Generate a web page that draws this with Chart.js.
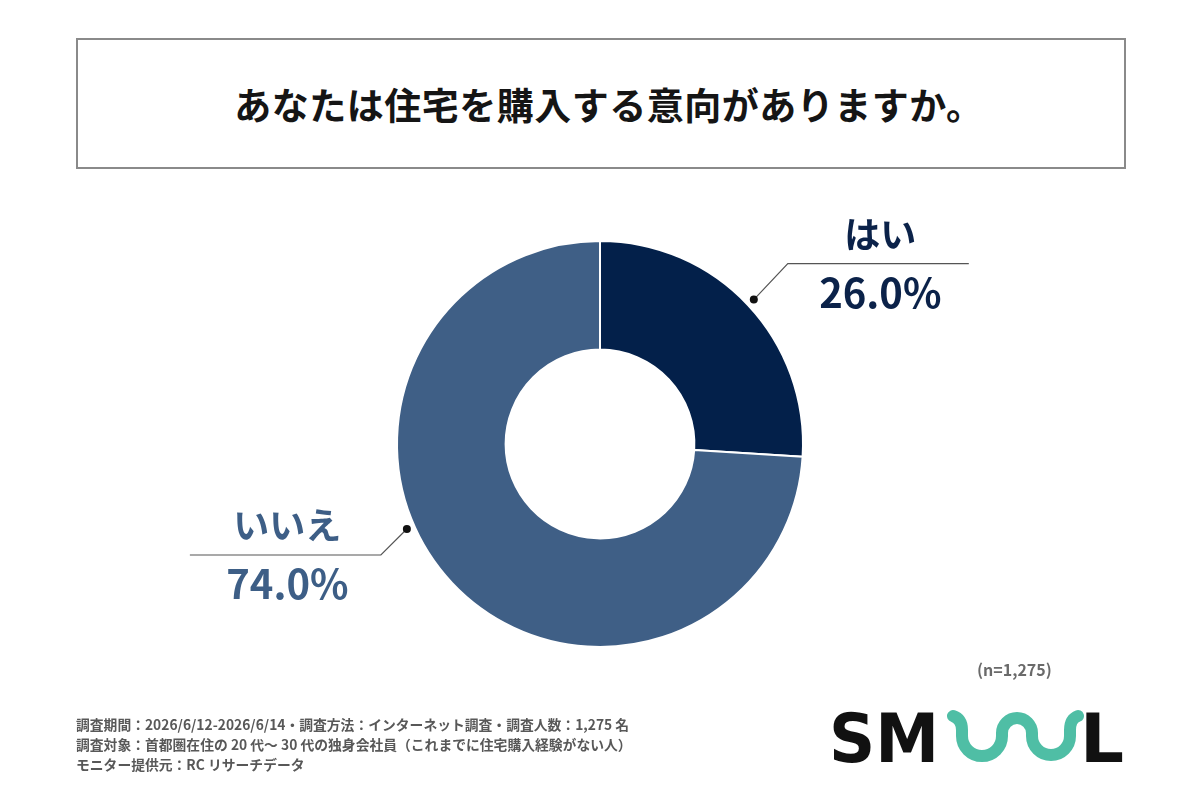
<!DOCTYPE html>
<html lang="ja">
<head>
<meta charset="utf-8">
<script src="https://cdn.jsdelivr.net/npm/chart.js@4"></script>
<style>
  html, body { margin: 0; padding: 0; background: #fff; }
  body { width: 1200px; height: 800px; position: relative; overflow: hidden;
         font-family: "Noto Sans CJK JP", "Noto Sans", sans-serif; }
  .titleBox { position: absolute; left: 76px; top: 38px; width: 1046px; height: 127px;
              border: 2px solid #8a8a8a; display: flex; align-items: center; justify-content: center; }
  .titleBox span { font-size: 37px; font-weight: 700; color: #151515; letter-spacing: 0.5px;
                   padding-left: 16px; }
  #chart { position: absolute; left: 0; top: 0; }
  .note { position: absolute; left: 76px; top: 714px; font-size: 13.8px; line-height: 20px;
          font-weight: 700; color: #585858; }
  .n { position: absolute; left: 977px; top: 657px; font-size: 16px; font-weight: 700; color: #6a6a6a; }
  .logo { position: absolute; left: 0; top: 0; }
</style>
</head>
<body>
<div class="titleBox"><span>あなたは住宅を購入する意向がありますか。</span></div>
<canvas id="chart" width="1200" height="800"></canvas>
<div class="n">(n=1,275)</div>
<div class="note">
  調査期間：2026/6/12-2026/6/14・調査方法：インターネット調査・調査人数：1,275 名<br>
  調査対象：首都圏在住の 20 代〜 30 代の独身会社員（これまでに住宅購入経験がない人）<br>
  モニター提供元：RC リサーチデータ
</div>
<svg class="logo" width="1200" height="800">
  <text x="829" y="762" font-family="DejaVu Sans" font-weight="700" font-size="68" fill="#111"
        textLength="110" lengthAdjust="spacingAndGlyphs">SM</text>
  <path d="M953 716 Q962 719 962 730 L962 736 A20 20 0 0 0 1002 736 L1002 733 A15 15 0 0 1 1032 733 L1032 736 A19 19 0 0 0 1070 736 L1070 730 Q1070 719 1078 716"
        fill="none" stroke="#4fbea5" stroke-width="12" stroke-linecap="round"/>
  <text x="1080" y="762" font-family="DejaVu Sans" font-weight="700" font-size="68" fill="#111"
        textLength="44" lengthAdjust="spacingAndGlyphs">L</text>
</svg>
<script>
const categories = ["はい", "いいえ"];
const shares = [26.0, 74.0];
const percentLabels = ["26.0%", "74.0%"];

const sliceColors = ["#03204a", "#3f5f86"];
const textColors = ["#0b2249", "#3d5e86"];

// where each leader starts along its slice (0..1) and which side the label sits on
const leaderAt = [0.5, 0.573];
const leaderSide = [1, -1];

const leaderPlugin = {
  id: "leaders",
  afterDatasetsDraw(chart) {
    const ctx = chart.ctx;
    const arcs = chart.getDatasetMeta(0).data;
    arcs.forEach((arc, i) => {
      const p = arc.getProps(["x", "y", "startAngle", "endAngle", "outerRadius"], true);
      const a = p.startAngle + (p.endAngle - p.startAngle) * leaderAt[i];
      const r = p.outerRadius + 8;
      const dx = p.x + r * Math.cos(a);
      const dy = p.y + r * Math.sin(a);
      const side = leaderSide[i];
      const diag = side > 0 ? 34 : 26;
      const ex = dx + side * diag;
      const ey = dy - (side > 0 ? 36 : -26);
      const len = side > 0 ? 181 : 191;
      const fx = ex + side * len;

      ctx.save();
      ctx.strokeStyle = "#555";
      ctx.lineWidth = 1.2;
      ctx.beginPath();
      ctx.moveTo(dx, dy);
      ctx.lineTo(ex, ey);
      ctx.lineTo(fx, ey);
      ctx.stroke();

      ctx.fillStyle = "#111";
      ctx.beginPath();
      ctx.arc(dx, dy, 4, 0, Math.PI * 2);
      ctx.fill();

      const cx = (ex + fx) / 2 + 2;
      ctx.fillStyle = textColors[i];
      ctx.textAlign = "center";
      ctx.textBaseline = "alphabetic";
      ctx.font = "700 36px 'Noto Sans CJK JP'";
      ctx.fillText(categories[i], cx, ey - 16);
      ctx.font = "700 40px 'Noto Sans CJK JP'";
      ctx.fillText(percentLabels[i], cx, ey + 44);
      ctx.restore();
    });
  }
};

new Chart(document.getElementById("chart").getContext("2d"), {
  type: "doughnut",
  data: {
    labels: categories,
    datasets: [{
      data: shares,
      backgroundColor: sliceColors,
      borderColor: "#ffffff",
      borderWidth: 2
    }]
  },
  options: {
    responsive: false,
    animation: false,
    cutout: "46.5%",
    layout: { padding: { left: 396, right: 396, top: 240, bottom: 152 } },
    plugins: {
      legend: { display: false },
      tooltip: { enabled: false }
    }
  },
  plugins: [leaderPlugin]
});
</script>
</body>
</html>
